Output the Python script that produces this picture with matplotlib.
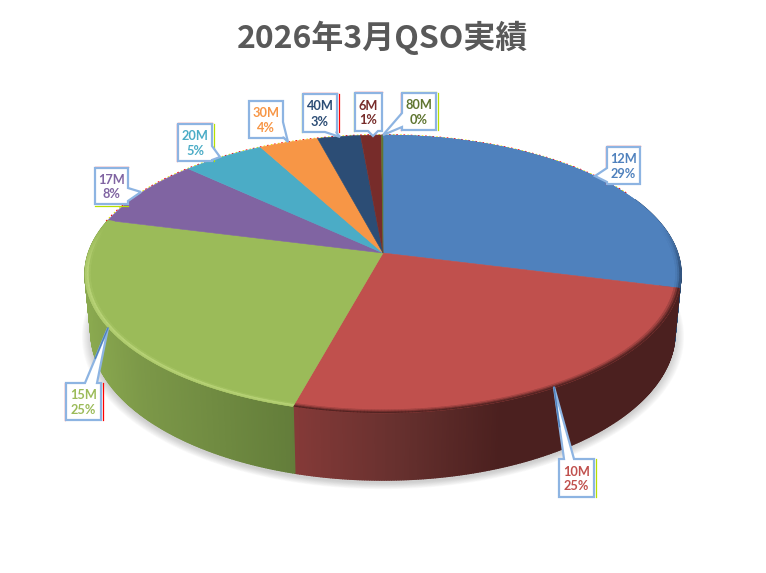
import numpy as np
import matplotlib
matplotlib.use("Agg")
import matplotlib.pyplot as plt
from matplotlib.collections import PolyCollection
from matplotlib.colors import to_rgb
from matplotlib.patches import Polygon

plt.rcParams['font.family'] = ['Noto Sans CJK JP', 'DejaVu Sans']

# ---- data ----
bands = ['12M', '10M', '15M', '17M', '20M', '30M', '40M', '6M', '80M']
shares = [29.0, 25.2, 24.8, 8.0, 5.2, 3.7, 2.7, 1.3, 0.1]
title = '2026年3月QSO実績'

# ---- styles ----
top_colors = ['#4f81bd', '#c0504d', '#9bbb59', '#8064a2', '#4bacc6',
              '#f79646', '#2c4d75', '#772c2a', '#5f7530']
text_colors = top_colors
wall_stops = {
    '12M': [(560, '#2c4a70'), (690, '#2c4a70')],
    '10M': [(293, '#853a38'), (400, '#66302e'), (500, '#4b201f'), (690, '#4b201f')],
    '15M': [(85, '#8aa94f'), (140, '#7c9848'), (293, '#637d3a')],
}
rim_colors = {'12M': '#2f4f78', '10M': '#4b201f', '15M': '#c3dc82'}
rim_weight = {'12M': [0, .15, .4, .9], '10M': [0, .25, .6, .95], '15M': [0, .2, .75, .55]}
rim_start = {'12M': 0.2, '10M': 0.42, '15M': 0.2}

# x0, x1, y0, y1 box; tip; pointer base; outer marks (left, top, right, bottom)
callouts = {
    '12M': dict(box=(607, 640, 147, 184), tip=(595, 176), side='l', base=(168, 182), marks=('r', 'r', None, None)),
    '10M': dict(box=(559, 594, 459, 497), tip=(554, 387), side='t', base=(564, 574), marks=(None, None, 'g', None)),
    '15M': dict(box=(66, 101, 383, 420), tip=(108, 328), side='t', base=(85, 97), marks=('r', None, 'r', None)),
    '17M': dict(box=(95, 128, 168, 204), tip=(141, 192), side='r', base=(188, 201), marks=(None, 'r', None, 'g')),
    '20M': dict(box=(178, 212, 124, 161), tip=(220, 157), side='r', base=(146, 160), marks=('r', 'r', 'g', None)),
    '30M': dict(box=(249, 283, 101, 138), tip=(288, 142), side='r', base=(122, 137), marks=(None, None, None, None)),
    '40M': dict(box=(303, 337, 94, 132), tip=(340, 137), side='b', base=(325, 336), marks=('g', 'r', 'r', None)),
    '6M': dict(box=(355, 382, 93, 131), tip=(373, 136), side='b', base=(368, 378), marks=('g', 'r', None, None)),
    '80M': dict(box=(402, 436, 93, 130), tip=(383, 135), side='l', base=(113, 127), marks=('r', 'g', 'g', None)),
}
mark_colors = {'r': '#ff0000', 'g': '#b8e000'}

# ---- projection ----
CX, CY, A, B, K, DEPTH, SHRINK = 383.0, 253.0, 294.6, 135.8, 0.151, 57.0, 0.98


def project(theta, r=1.0, lower=False):
    u, v = r * np.sin(theta), r * np.cos(theta)
    w = 1 + K * v
    x = A * u / w
    y = -B * v / w
    if lower:
        return CX + SHRINK * x, CY + y + DEPTH / w
    return CX + x, CY + y


def mix(a, b, t):
    a, b = np.array(to_rgb(a)), np.array(to_rgb(b))
    return tuple(a + (b - a) * t)


def wall_color(stops, x):
    xs = [s[0] for s in stops]
    rgb = np.array([to_rgb(s[1]) for s in stops])
    return tuple(np.interp(x, xs, rgb[:, i]) for i in range(3))


fig = plt.figure(figsize=(7.66, 5.73), dpi=100, facecolor='white')
ax = fig.add_axes([0, 0, 1, 1])
ax.set_xlim(0, 766)
ax.set_ylim(573, 0)
ax.axis('off')

fractions = np.array(shares) / sum(shares)
edges = np.concatenate([[0], np.cumsum(fractions)]) * 2 * np.pi

# soft shadow under the body
full = np.linspace(0, 2 * np.pi, 361)
for grow in np.linspace(1.03, 1.0, 10):
    x, y = project(full, grow, lower=True)
    ax.fill(x, y + 3, color='#6e6e6e', alpha=0.035, lw=0, zorder=1)

# side wall
for i, band in enumerate(bands):
    if band not in wall_stops:
        continue
    ts = np.linspace(edges[i], edges[i + 1], 220)
    quads, cols = [], []
    for a, b in zip(ts[:-1], ts[1:]):
        if np.cos((a + b) / 2) > 0.42:
            continue
        xa, ya = project(a)
        xb, yb = project(b)
        xc, yc = project(b, lower=True)
        xd, yd = project(a, lower=True)
        quads.append([(xa, ya), (xb, yb), (xc, yc), (xd, yd)])
        cols.append(wall_color(wall_stops[band], (xa + xb) / 2))
    ax.add_collection(PolyCollection(quads, facecolors=cols, edgecolors=cols, linewidths=1.0, zorder=2))

# top faces
for i, band in enumerate(bands):
    ts = np.linspace(edges[i], edges[i + 1], max(3, int(fractions[i] * 400)))
    x, y = project(ts)
    xs = np.concatenate([[CX], x])
    ys = np.concatenate([[CY], y])
    ax.add_patch(Polygon(np.c_[xs, ys], closed=True, facecolor=top_colors[i],
                         edgecolor=top_colors[i], linewidth=0.4, zorder=3))

# bevel on the rim
radii = [0.975, 0.982, 0.989, 0.995, 1.0]
for i, band in enumerate(bands):
    if band not in rim_colors:
        continue
    ts = np.linspace(edges[i], edges[i + 1], 160)
    quads, cols = [], []
    for j in range(len(radii) - 1):
        for a, b in zip(ts[:-1], ts[1:]):
            fade = np.clip((rim_start[band] - np.cos((a + b) / 2)) / 0.3, 0, 1)
            xa, ya = project(a, radii[j])
            xb, yb = project(b, radii[j])
            xc, yc = project(b, radii[j + 1])
            xd, yd = project(a, radii[j + 1])
            quads.append([(xa, ya), (xb, yb), (xc, yc), (xd, yd)])
            cols.append(mix(top_colors[i], rim_colors[band], rim_weight[band][j] * fade))
    ax.add_collection(PolyCollection(quads, facecolors=cols, edgecolors=cols, linewidths=0.3, zorder=4))

# dashed red/yellow fringe along the far rim
arc = np.linspace(np.radians(-76), np.radians(62), 300)
xf, yf = project(arc, 1.004)
ax.plot(xf, yf, color='#ff0000', lw=0.8, ls=(0, (1.5, 5)), zorder=2.5)
ax.plot(xf, yf, color='#e8e800', lw=0.8, ls=(3, (1.5, 5)), zorder=2.5)

# callouts
for i, band in enumerate(bands):
    c = callouts[band]
    x0, x1, y0, y1 = c['box']
    b0, b1 = c['base']
    tip = c['tip']
    if c['side'] == 'l':
        pts = [(x0, y0), (x1, y0), (x1, y1), (x0, y1), (x0, b1), tip, (x0, b0)]
    elif c['side'] == 'r':
        pts = [(x0, y0), (x1, y0), (x1, b0), tip, (x1, b1), (x1, y1), (x0, y1)]
    elif c['side'] == 't':
        pts = [(x0, y0), (b0, y0), tip, (b1, y0), (x1, y0), (x1, y1), (x0, y1)]
    else:
        pts = [(x0, y0), (x1, y0), (x1, y1), (b1, y1), tip, (b0, y1), (x0, y1)]
    lines = {0: [(x0 - 1.5, y0), (x0 - 1.5, y1)], 1: [(x0, y0 - 1.5), (x1, y0 - 1.5)],
             2: [(x1 + 1.5, y0), (x1 + 1.5, y1)], 3: [(x0, y1 + 1.5), (x1, y1 + 1.5)]}
    for k, m in enumerate(c['marks']):
        if m:
            (ax0, ay0), (ax1, ay1) = lines[k]
            ax.plot([ax0, ax1], [ay0, ay1], color=mark_colors[m], lw=0.9, zorder=5)
    ax.add_patch(Polygon(pts, closed=True, facecolor='white', edgecolor='#8db4e2',
                         linewidth=1.6, joinstyle='miter', zorder=6))
    if c['side'] == 't':
        mid = (tip[0] + 0.55 * (b0 - tip[0]), tip[1] + 0.55 * (y0 - tip[1]))
        ax.plot([tip[0], mid[0]], [tip[1], mid[1]], color='#4f81bd', lw=1.0, zorder=6.5)
    pct = f"{fractions[i] * 100:.0f}%"
    ax.text((x0 + x1) / 2, (y0 + y1) / 2 + 1, f"{band}\n{pct}", color=text_colors[i],
            ha='center', va='center', family='Lato', fontweight='bold',
            fontsize=9.2, linespacing=1.3, zorder=7)

ax.text(383, 38, title, ha='center', va='center', color='#595959',
        fontsize=23, fontweight='bold', zorder=7)

fig.savefig('out.png', dpi=100, facecolor='white')
